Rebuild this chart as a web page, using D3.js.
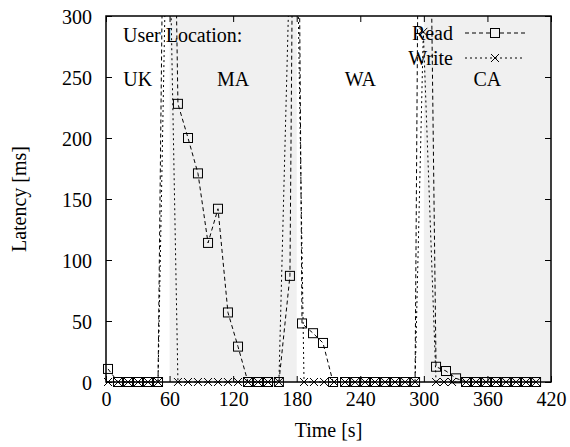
<!DOCTYPE html>
<html>
<head>
<meta charset="utf-8">
<script src="https://cdn.jsdelivr.net/npm/d3@7"></script>
<style>
  body { margin: 0; background: #fff; }
  text { font-family: "Liberation Serif", "Times New Roman", serif; fill: #000; }
</style>
</head>
<body>
<div id="vis"></div>
<script>
// location periods (seconds) and the labels written above them
var regions = [
  {name: "UK", from: 0, to: 60, shade: false},
  {name: "MA", from: 60, to: 180, shade: true},
  {name: "WA", from: 180, to: 300, shade: false},
  {name: "CA", from: 300, to: 420, shade: true}
];

// read latency samples (time [s], latency [ms])
var readTime = [1.9, 11.3, 20.8, 30.2, 39.6, 49.1, 58.5, 67.9, 77.4, 86.8, 96.3, 105.7,
  115.1, 124.6, 134.0, 143.5, 152.9, 163.2, 173.6, 179.3, 185.0, 195.4, 204.8, 214.3,
  225.6, 235.1, 244.5, 253.9, 263.4, 272.8, 282.3, 291.7, 299.0, 311.5, 320.9, 330.4,
  339.8, 349.2, 358.7, 368.1, 377.6, 387.0, 396.4, 405.9];
var readLatency = [10.7, 0, 0, 0, 0, 0, 750, 228, 200, 171, 114, 142,
  57, 29, 0, 0, 0, 0, 87, 700, 48, 40, 32, 0,
  0, 0, 0, 0, 0, 0, 0, 0, 900, 12.5, 9, 3,
  0, 0, 0, 0, 0, 0, 0, 0];

// write latency samples
var writeTime = [1.9, 11.3, 20.8, 30.2, 39.6, 49.1, 58.5, 67.9, 77.4, 86.8, 96.3, 105.7,
  115.1, 124.6, 134.0, 143.5, 152.9, 163.2, 178.0, 186.9, 196.3, 205.8, 215.2,
  225.6, 235.1, 244.5, 253.9, 263.4, 272.8, 282.3, 291.7, 299.5, 311.5, 319.0, 326.6,
  339.8, 349.2, 358.7, 368.1, 377.6, 387.0, 396.4, 405.9];
var writeLatency = [0, 0, 0, 0, 0, 0, 440, 0, 0, 0, 0, 0,
  0, 0, 0, 0, 0, 0, 500, 0, 0, 0, 0,
  0, 0, 0, 0, 0, 0, 0, 0, 287, 0, 0, 0,
  0, 0, 0, 0, 0, 0, 0, 0];

var xTicks = [0, 60, 120, 180, 240, 300, 360, 420];
var yTicks = [0, 50, 100, 150, 200, 250, 300];

var W = 570, H = 447;
var margin = {top: 16, right: 19, bottom: 65, left: 106};
var width = W - margin.left - margin.right;
var height = H - margin.top - margin.bottom;

var svg = d3.select("#vis").append("svg")
  .attr("width", W).attr("height", H);

var g = svg.append("g")
  .attr("transform", "translate(" + margin.left + "," + margin.top + ")");

var x = d3.scaleLinear().domain([0, 420]).range([0, width]);
var y = d3.scaleLinear().domain([0, 300]).range([height, 0]);

svg.append("defs").append("clipPath").attr("id", "clip")
  .append("rect").attr("x", -6).attr("width", width + 6).attr("height", height + 6);

// shaded location bands
g.selectAll("rect.band").data(regions.filter(function(d) { return d.shade; }))
  .enter().append("rect")
  .attr("class", "band")
  .attr("x", function(d) { return x(d.from); })
  .attr("y", 0)
  .attr("width", function(d) { return x(d.to) - x(d.from); })
  .attr("height", height)
  .attr("fill", "#f0f0f0");

// axes with inward ticks, mirrored on top/right
var xAxis = d3.axisBottom(x).tickValues(xTicks).tickSizeInner(-6).tickSizeOuter(0).tickPadding(10);
var yAxis = d3.axisLeft(y).tickValues(yTicks).tickSizeInner(-6).tickSizeOuter(0).tickPadding(14);

var gx = g.append("g").attr("transform", "translate(0," + height + ")").call(xAxis);
var gy = g.append("g").call(yAxis);
g.append("g").call(d3.axisTop(x).tickValues(xTicks).tickSizeInner(-6).tickSizeOuter(0).tickFormat(""));
g.append("g").attr("transform", "translate(" + width + ",0)")
  .call(d3.axisRight(y).tickValues(yTicks).tickSizeInner(-6).tickSizeOuter(0).tickFormat(""));

g.selectAll(".domain").remove();
g.selectAll(".tick line").attr("stroke", "#000");
gx.selectAll("text").style("font-size", "20px");
gy.selectAll("text").style("font-size", "20px").attr("dy", "0.35em");

// region labels
g.append("text").attr("x", 17).attr("y", 26).style("font-size", "20px").text("User Location:");
g.selectAll("text.region").data(regions).enter().append("text")
  .attr("class", "region")
  .attr("x", function(d) { return (x(d.from) + x(d.to)) / 2; })
  .attr("y", 70)
  .attr("text-anchor", "middle")
  .style("font-size", "20px")
  .text(function(d) { return d.name; });

var readData = readTime.map(function(t, i) { return {t: t, v: readLatency[i]}; });
var writeData = writeTime.map(function(t, i) { return {t: t, v: writeLatency[i]}; });

var line = d3.line().x(function(d) { return x(d.t); }).y(function(d) { return y(d.v); });

var plot = g.append("g").attr("clip-path", "url(#clip)");

plot.append("path").datum(readData)
  .attr("d", line).attr("fill", "none").attr("stroke", "#000")
  .attr("stroke-width", 1).attr("stroke-dasharray", "4,3");
plot.append("path").datum(writeData)
  .attr("d", line).attr("fill", "none").attr("stroke", "#000")
  .attr("stroke-width", 1).attr("stroke-dasharray", "2,3");

// markers
plot.selectAll("rect.rd").data(readData.filter(function(d) { return d.v <= 300; }))
  .enter().append("rect").attr("class", "rd")
  .attr("x", function(d) { return x(d.t) - 4.5; })
  .attr("y", function(d) { return y(d.v) - 4.5; })
  .attr("width", 9).attr("height", 9)
  .attr("fill", "none").attr("stroke", "#000").attr("stroke-width", 1);

var cross = "M-4,-4L4,4M-4,4L4,-4";
plot.selectAll("path.wr").data(writeData.filter(function(d) { return d.v <= 300; }))
  .enter().append("path").attr("class", "wr")
  .attr("transform", function(d) { return "translate(" + x(d.t) + "," + y(d.v) + ")"; })
  .attr("d", cross).attr("stroke", "#000").attr("stroke-width", 1);

// frame
g.append("rect").attr("width", width).attr("height", height)
  .attr("fill", "none").attr("stroke", "#000").attr("stroke-width", 1.5);

// legend
var leg = g.append("g");
var legItems = [
  {label: "Read", y: 17, dash: "4,3", mark: "square"},
  {label: "Write", y: 42, dash: "2,3", mark: "cross"}
];
legItems.forEach(function(it) {
  leg.append("text").attr("x", 347).attr("y", it.y).attr("dy", "0.35em")
    .attr("text-anchor", "end").style("font-size", "20px").text(it.label);
  leg.append("line").attr("x1", 359).attr("x2", 419).attr("y1", it.y).attr("y2", it.y)
    .attr("stroke", "#000").attr("stroke-dasharray", it.dash);
  if (it.mark == "square") {
    leg.append("rect").attr("x", 384.5).attr("y", it.y - 4.5).attr("width", 9).attr("height", 9)
      .attr("fill", "#f0f0f0").attr("stroke", "#000");
  } else {
    leg.append("path").attr("transform", "translate(389," + it.y + ")")
      .attr("d", cross).attr("stroke", "#000");
  }
});

// axis titles
svg.append("text").attr("x", margin.left + width / 2).attr("y", 437)
  .attr("text-anchor", "middle").style("font-size", "20px").text("Time [s]");
svg.append("text").attr("transform", "translate(26," + (margin.top + height / 2) + ") rotate(-90)")
  .attr("text-anchor", "middle").style("font-size", "20px").text("Latency [ms]");
</script>
</body>
</html>
